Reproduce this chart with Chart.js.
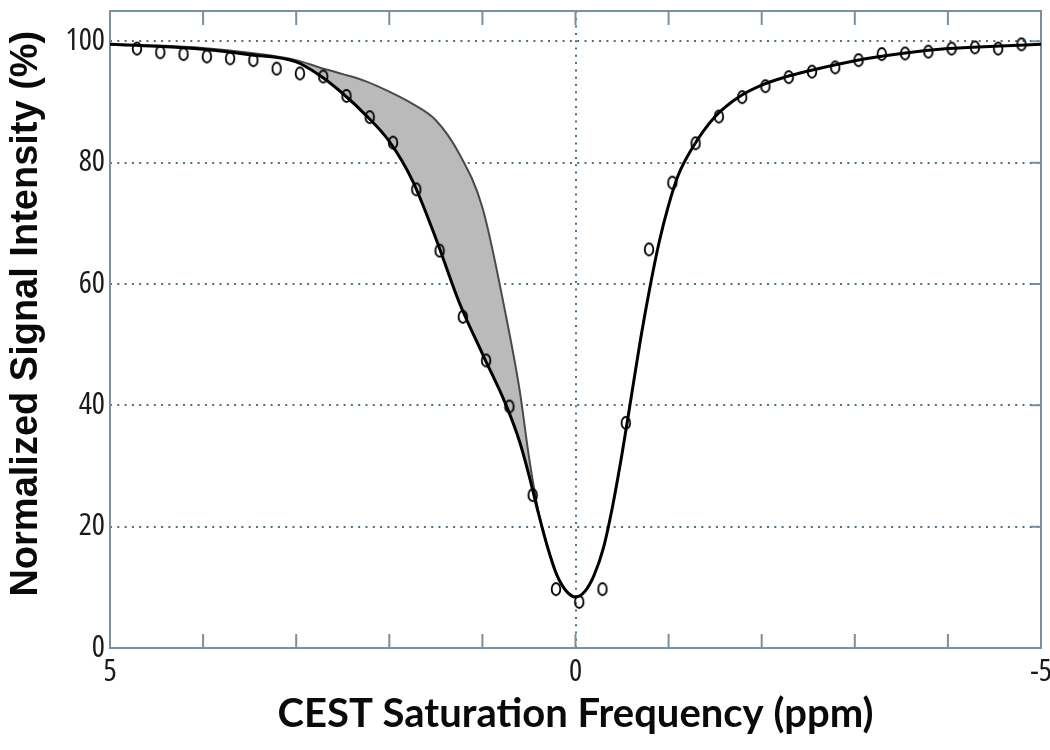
<!DOCTYPE html>
<html>
<head>
<meta charset="utf-8">
<title>CEST Z-spectrum</title>
<script src="https://cdn.jsdelivr.net/npm/chart.js@4/dist/chart.umd.min.js"></script>
<style>
    html, body { margin: 0; padding: 0; background: #fff; }
    #wrap { width: 1050px; height: 750px; }
</style>
</head>
<body>
<div id="wrap"><canvas id="zChart"></canvas></div>
<script>
    // Measured points (open circles)
    const pointPpm = [4.71, 4.46, 4.21, 3.96, 3.71, 3.46, 3.21, 2.96, 2.71, 2.46, 2.21, 1.96, 1.71,
        1.46, 1.21, 0.96, 0.71, 0.46, 0.21, -0.04, -0.29, -0.54, -0.79, -1.04, -1.29, -1.54, -1.79,
        -2.04, -2.29, -2.54, -2.79, -3.04, -3.29, -3.54, -3.79, -4.04, -4.29, -4.54, -4.79];
    const pointSignal = [98.8, 98.2, 97.9, 97.5, 97.2, 96.9, 95.5, 94.7, 94.2, 91.0, 87.5, 83.3, 75.6,
        65.5, 54.6, 47.4, 39.8, 25.2, 9.7, 7.6, 9.7, 37.1, 65.7, 76.7, 83.2, 87.6, 90.8,
        92.6, 94.1, 95.0, 95.7, 96.9, 97.9, 98.0, 98.3, 98.8, 99.0, 98.8, 99.5];

    // Fitted curve (black)
    const fitPpm = [5, 4.5, 4, 3.5, 3, 2.75, 2.5, 2.25, 2, 1.75, 1.5, 1.25, 1, 0.75, 0.6, 0.5, 0.4,
        0.3, 0.2, 0.1, 0, -0.1, -0.2, -0.3, -0.4, -0.5, -0.6, -0.7, -0.8, -0.9, -1, -1.1, -1.25,
        -1.5, -1.75, -2, -2.25, -2.5, -3, -3.5, -4, -4.5, -5];
    const fitSignal = [99.5, 99.2, 98.7, 97.8, 96.6, 94.4, 91.4, 87.8, 83.5, 77.0, 67.5, 57.0, 48.5,
        40.2, 34.0, 28.5, 22.3, 16.6, 12.0, 9.4, 8.4, 9.3, 12.0, 16.5, 23.5, 32.0, 41.5, 51.0, 59.5,
        67.0, 73.0, 77.8, 82.3, 87.6, 90.8, 92.8, 94.1, 95.1, 96.8, 98.0, 98.8, 99.2, 99.5];

    // Upper edge of the shaded band (grey)
    const bandPpm = [5, 4.5, 4, 3.5, 3, 2.75, 2.5, 2.25, 2, 1.75, 1.5, 1.25, 1, 0.75, 0.6, 0.5,
        0.4, 0.3, 0.2, 0.1, 0];
    const bandSignal = [99.5, 99.3, 98.9, 98.1, 96.9, 95.7, 94.6, 93.4, 91.7, 89.7, 87.0, 81.5, 72.6,
        55.0, 42.5, 31.5, 22.6, 16.7, 12.1, 9.4, 8.4];

    const xTickLabels = [5, 0, -5];

    const axisColor = '#7890a0';
    const dotColor = '#4f7082';
    const toXY = (xs, ys) => xs.map((x, i) => ({ x, y: ys[i] }));

    // small open ellipse used as marker
    const marker = document.createElement('canvas');
    marker.width = 14;
    marker.height = 18;
    const mctx = marker.getContext('2d');
    mctx.strokeStyle = '#000';
    mctx.lineWidth = 1.8;
    mctx.beginPath();
    mctx.ellipse(7, 9, 4.3, 6, 0, 0, Math.PI * 2);
    mctx.stroke();

    // plot frame + inward tick marks
    const framePlugin = {
        id: 'frame',
        beforeDraw(chart) {
            // narrow digits for tick labels (titles use fonts without a condensed face)
            chart.ctx.fontStretch = 'condensed';
        },
        beforeDatasetsDraw(chart) {
            const { ctx, chartArea: a, scales: { x, y } } = chart;
            ctx.save();
            ctx.strokeStyle = axisColor;
            ctx.lineWidth = 2;
            ctx.strokeRect(a.left, a.top, a.right - a.left, a.bottom - a.top);
            ctx.beginPath();
            x.ticks.forEach(t => {
                const px = x.getPixelForValue(t.value);
                ctx.moveTo(px, a.bottom);
                ctx.lineTo(px, a.bottom - 14);
                ctx.moveTo(px, a.top);
                ctx.lineTo(px, a.top + 14);
            });
            y.ticks.forEach(t => {
                const py = y.getPixelForValue(t.value);
                ctx.moveTo(a.right, py);
                ctx.lineTo(a.right - 10, py);
            });
            ctx.stroke();
            ctx.restore();
        }
    };

    const tickFont = { family: '"Open Sans", sans-serif', size: 31 };

    new Chart(document.getElementById('zChart'), {
        type: 'scatter',
        data: {
            datasets: [
                {
                    label: 'Measured',
                    data: toXY(pointPpm, pointSignal),
                    pointStyle: marker,
                    pointRadius: 5,
                    showLine: false
                },
                {
                    label: 'Fit',
                    data: toXY(fitPpm, fitSignal),
                    showLine: true,
                    borderColor: '#000',
                    borderWidth: 3,
                    pointRadius: 0,
                    cubicInterpolationMode: 'monotone'
                },
                {
                    label: 'Band',
                    data: toXY(bandPpm, bandSignal),
                    showLine: true,
                    borderColor: '#4a4a4a',
                    borderWidth: 2,
                    pointRadius: 0,
                    cubicInterpolationMode: 'monotone',
                    fill: { target: 1 },
                    backgroundColor: '#bababa'
                }
            ]
        },
        options: {
            responsive: true,
            maintainAspectRatio: false,
            animation: false,
            layout: { padding: { left: 0, right: 9, top: 11, bottom: 0 } },
            plugins: {
                legend: { display: false },
                tooltip: { enabled: false }
            },
            scales: {
                x: {
                    type: 'linear',
                    min: -5,
                    max: 5,
                    reverse: true,
                    border: { display: false, dash: [2, 5.3] },
                    grid: {
                        drawTicks: false,
                        lineWidth: 2,
                        color: ctx => ctx.tick && ctx.tick.value === 0 ? dotColor : 'transparent'
                    },
                    ticks: {
                        stepSize: 1,
                        autoSkip: false,
                        maxRotation: 0,
                        padding: 6,
                        color: '#1a1a1a',
                        font: tickFont,
                        callback: v => xTickLabels.includes(v) ? String(v) : ''
                    },
                    title: {
                        display: true,
                        text: 'CEST Saturation Frequency (ppm)',
                        color: '#0a0a0a',
                        font: { family: 'Lato, sans-serif', size: 40, weight: 'bold' },
                        padding: { top: 0, bottom: 12 }
                    },
                    afterFit(scale) {
                        scale.height = 102;
                        scale.paddingLeft = 0;
                        scale.paddingRight = 0;
                    }
                },
                y: {
                    min: 0,
                    max: 105,
                    border: { display: false, dash: [2, 5.3] },
                    grid: {
                        drawTicks: false,
                        lineWidth: 2,
                        color: ctx => ctx.tick && ctx.tick.value > 0 ? dotColor : 'transparent'
                    },
                    ticks: {
                        stepSize: 20,
                        includeBounds: false,
                        padding: 5,
                        color: '#1a1a1a',
                        font: tickFont
                    },
                    title: {
                        display: true,
                        // leading spaces nudge the label a little toward the top, as in the original
                        text: '   Normalized Signal Intensity (%)',
                        color: '#0a0a0a',
                        font: { family: '"Liberation Sans", Arial, sans-serif', size: 38, weight: 'bold' },
                        padding: { top: 4, bottom: 0 }
                    },
                    afterFit(scale) {
                        scale.width = 110;
                        scale.paddingTop = 0;
                        scale.paddingBottom = 0;
                    }
                }
            }
        },
        plugins: [framePlugin]
    });
</script>
</body>
</html>
